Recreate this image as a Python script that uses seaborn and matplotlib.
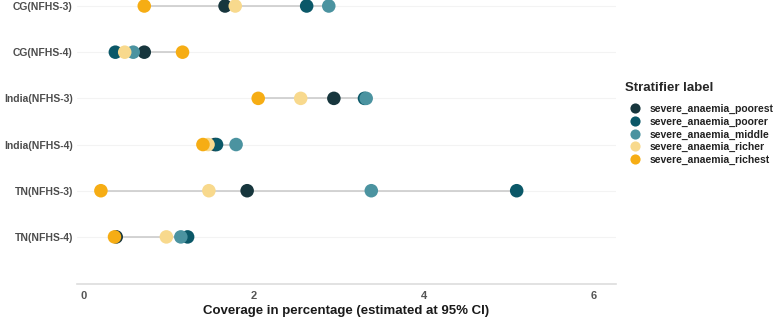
import pandas as pd
import matplotlib.pyplot as plt
import seaborn as sns

# survey rows, top to bottom
regions = ['CG(NFHS-3)', 'CG(NFHS-4)', 'India(NFHS-3)', 'India(NFHS-4)', 'TN(NFHS-3)', 'TN(NFHS-4)']

strata = ['severe_anaemia_poorest', 'severe_anaemia_poorer', 'severe_anaemia_middle',
          'severe_anaemia_richer', 'severe_anaemia_richest']
colors = ['#17363d', '#0b5868', '#4b93a0', '#f8d98d', '#f6ad14']

# coverage (%) per region, one list per stratum
poorest = [1.66, 0.71, 2.94, 1.54, 1.92, 0.38]
poorer = [2.62, 0.37, 3.30, 1.56, 5.09, 1.22]
middle = [2.88, 0.58, 3.32, 1.79, 3.38, 1.14]
richer = [1.78, 0.48, 2.55, 1.46, 1.47, 0.97]
richest = [0.71, 1.16, 2.05, 1.40, 0.20, 0.36]


def build_frame():
    rows = []
    for name, vals in zip(strata, [poorest, poorer, middle, richer, richest]):
        for reg, v in zip(regions, vals):
            rows.append({'region': reg, 'stratum': name, 'value': v, 'pos': regions.index(reg)})
    return pd.DataFrame(rows)


def main():
    df = build_frame()
    sns.set_theme(style='white')
    plt.rcParams['font.family'] = ['Liberation Sans', 'DejaVu Sans']

    fig = plt.figure(figsize=(7.77, 3.27), dpi=100)
    ax = fig.add_axes([0.099, 0.1315, 0.694, 0.8685])

    # faint full-width grid rows
    for i in range(len(regions)):
        ax.axhline(i, color='#f3f3f3', lw=0.8, zorder=0)

    # range line from min to max per region
    rng = df.groupby('pos')['value'].agg(['min', 'max'])
    ax.hlines(rng.index, rng['min'], rng['max'], color='#cccccc', lw=1.2, zorder=1)

    sns.scatterplot(data=df, x='value', y='pos', hue='stratum', hue_order=strata,
                    palette=colors, s=95, edgecolor='none', linewidth=0, ax=ax, zorder=3)

    ax.set_xlim(-0.082, 6.26)
    ax.set_ylim(6.02, -0.13)
    ax.set_yticks(range(len(regions)))
    ax.set_yticklabels(regions, fontsize=7.5, fontweight='bold', color='#4d4d4d')
    ax.set_xticks([0, 2, 4, 6])
    ax.set_xticklabels(['0', '2', '4', '6'], fontsize=8, fontweight='bold', color='#555555')
    ax.tick_params(axis='both', length=0, pad=5)
    ax.tick_params(axis='y', pad=3)
    ax.set_ylabel('')
    ax.set_xlabel('Coverage in percentage (estimated at 95% CI)', fontsize=9.5,
                  fontweight='bold', color='#1a1a1a', labelpad=3)

    for side in ['top', 'right', 'left']:
        ax.spines[side].set_visible(False)
    ax.spines['bottom'].set_color('#dddddd')
    ax.spines['bottom'].set_linewidth(1.2)

    leg = ax.legend(title='Stratifier label', loc='upper left', bbox_to_anchor=(1.008, 0.725),
                    frameon=False, fontsize=7.5, title_fontsize=9.5, handletextpad=0.35,
                    labelspacing=0.25, markerscale=0.75, borderaxespad=0)
    leg.get_title().set_fontweight('bold')
    leg._legend_box.align = 'left'
    leg._legend_box.sep = 7
    for t in leg.get_texts():
        t.set_fontweight('bold')
        t.set_color('#222222')

    plt.savefig('out.png', dpi=100)
    plt.close()


if __name__ == '__main__':
    main()
